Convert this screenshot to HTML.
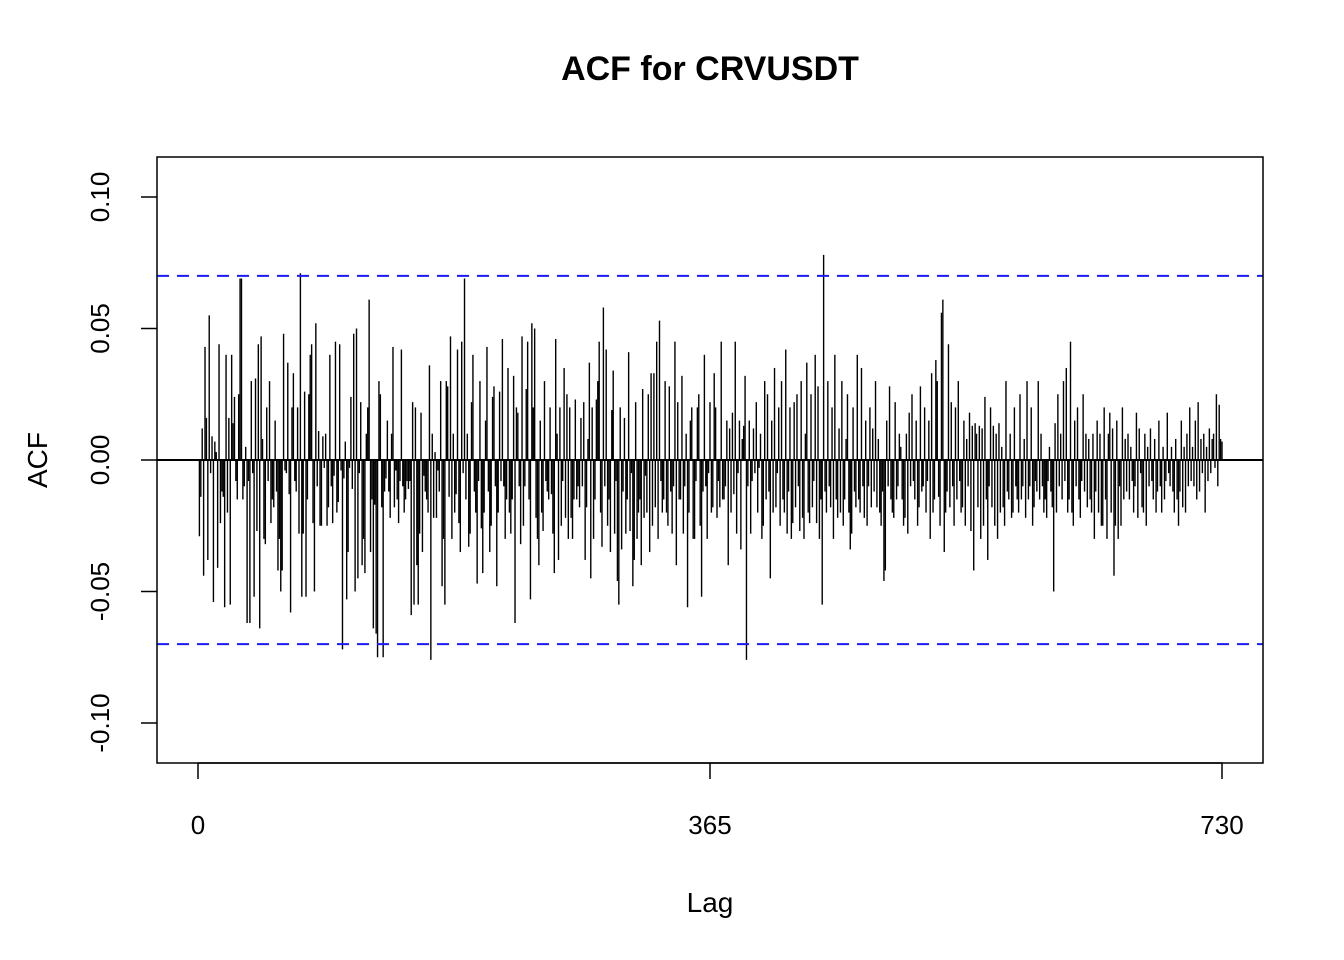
<!DOCTYPE html>
<html><head><meta charset="utf-8"><style>
html,body{margin:0;padding:0;background:#fff}
svg{display:block;font-family:"Liberation Sans",Arial,sans-serif}
</style></head><body>
<svg id="chart" width="1344" height="960" viewBox="0 0 1344 960">
<rect width="1344" height="960" fill="#fff"/>
<text x="710" y="80" text-anchor="middle" font-size="34" font-weight="bold">ACF for CRVUSDT</text>
<g id="bars"></g>
<g id="axes"></g>
<rect x="157" y="157" width="1106" height="606" fill="none" stroke="#000" stroke-width="1.5"/>
<text x="710" y="912" text-anchor="middle" font-size="28">Lag</text>
<text x="0" y="0" transform="translate(47,460) rotate(-90)" text-anchor="middle" font-size="28">ACF</text>
</svg>
<script>
const acfMilli = [
-29,-14,12,-44,43,16,-38,55,-5,9,
-54,7,3,-41,44,-24,-12,-14,-56,40,
-20,16,-55,40,14,24,-8,-15,25,69,
69,-15,-10,5,-62,-8,-62,30,-5,-52,
31,-27,44,-64,47,8,-30,-32,20,-8,
30,-24,-15,-18,15,-12,-42,-30,-50,-42,
48,-4,-5,37,-13,-58,20,33,-8,-12,
20,-28,71,-52,-28,26,-52,-15,25,40,
44,-24,-50,52,-10,11,-25,-25,9,-3,
10,-25,-18,40,-10,-24,-6,45,-20,-16,
44,-4,-72,-7,7,-53,-35,-3,24,-11,
48,-50,50,-45,-5,22,-40,-30,-43,10,
20,61,-35,-15,-64,-17,-66,-75,30,25,
-18,-75,-12,-7,15,-12,-22,10,43,-18,
-4,-15,-24,-8,42,-10,-20,-15,-8,-11,
-8,-59,22,-55,20,-40,-55,-28,18,-35,
-6,-12,-15,-20,36,-76,10,-22,3,-22,
-4,-12,30,-48,-30,-55,30,28,-14,47,
-30,10,-20,-13,42,-24,-35,45,-5,69,
-15,10,-33,-28,22,40,-12,-20,-47,-8,
30,-26,-43,-20,15,43,-12,-35,-25,24,
28,-10,-48,-20,26,-8,46,-10,-30,-15,
35,-20,-28,-15,32,-62,20,18,-10,-32,
47,-25,-10,27,45,-15,-53,52,20,50,
-22,-30,-40,15,-20,-27,30,-8,-12,-15,
20,-13,-28,-43,46,10,-38,20,-25,-8,
35,-22,25,-30,20,-22,-30,-15,23,-15,
-10,-18,16,-10,22,-38,-18,8,37,-45,
20,-30,-15,23,30,45,-20,-33,58,-10,
42,-25,-15,-35,19,34,-28,-8,-46,-55,
20,-34,-12,16,-28,-15,41,-27,-5,-48,
-38,22,-30,-20,-15,-40,27,-22,-6,-20,
25,-35,33,-25,33,-18,45,-30,53,-8,
-20,-15,30,-20,-25,28,-12,-28,-10,45,
-40,22,-15,-15,32,-28,-10,10,-56,-20,
15,20,-30,-30,-8,20,25,-25,-52,-12,
40,-10,-30,-5,22,-20,-18,33,20,-22,
-8,-18,45,-15,-15,-10,15,-40,12,-20,
18,-13,45,-28,-5,15,-34,8,13,32,
-76,-10,15,-28,-8,12,-5,22,-20,-3,
10,-30,-25,30,-15,25,-12,-45,15,-20,
35,-18,-5,20,-25,30,-15,-20,42,-28,
-12,20,-30,-24,22,-18,25,-10,-27,30,
-22,-30,10,37,-20,-24,25,-18,-8,40,
-24,28,-30,-15,-55,78,-12,-20,30,-10,
-18,20,-30,40,-15,-22,12,-20,30,-25,
-15,8,25,-20,-34,-28,20,-12,-18,40,
-15,-20,35,-10,-22,15,-25,-10,20,-18,
12,-12,30,-18,8,-20,-25,-12,-46,-42,
15,-10,28,-15,-20,-22,22,-15,-10,10,
5,-15,-25,-22,10,-28,18,-10,25,-8,
-15,15,-25,-18,28,-12,-10,20,-20,-8,
15,-30,33,-20,-15,38,30,-14,-25,56,
61,-35,-20,-12,44,-18,22,-10,-25,20,
-15,30,-8,-20,-18,15,-25,8,-10,18,
-27,13,-42,14,10,-18,13,-30,12,-25,
24,-15,-38,-10,20,-18,13,-25,10,-30,
14,-20,5,-18,-25,30,-12,-15,10,-22,
-20,20,-10,-15,-20,25,-15,-10,8,-22,
30,-15,-10,20,-25,-18,-8,-12,30,-15,
10,-10,-20,-15,-22,-8,5,-12,-18,-50,
14,-20,25,-10,10,-15,30,-8,35,-20,
-15,45,-20,-25,15,-10,20,-15,-22,-8,
25,-12,10,-18,8,-15,-20,10,-30,-12,
15,-20,10,-25,-25,20,-15,-30,10,18,
-20,12,-44,-25,15,-30,-10,-25,20,-15,
8,-12,10,-15,5,-8,-20,-10,18,-22,
12,-5,-18,-20,10,-25,5,-10,12,-8,
-15,8,-20,-12,15,-10,-20,5,-15,-8,
18,-5,-10,5,-12,-20,8,-15,-25,-12,
15,-18,5,-20,10,-10,20,-8,5,-10,
15,-15,22,-12,8,-5,10,-20,5,-8,
12,-5,8,10,-3,25,-10,21,8,7
];
const xTicks = [0, 365, 730];
const yTicks = [-0.10, -0.05, 0.00, 0.05, 0.10];
const yTickLabels = ["-0.10", "-0.05", "0.00", "0.05", "0.10"];
const ciBound = [0.07];

const NS = "http://www.w3.org/2000/svg";
function xs(l){ return 198 + (l/730)*(1222-198); }
function ys(v){ return 460 - v*2630; }
function mk(tag, attrs, parent){
  const e = document.createElementNS(NS, tag);
  for (const k in attrs) e.setAttribute(k, attrs[k]);
  parent.appendChild(e);
  return e;
}
const bars = document.getElementById('bars');
const axes = document.getElementById('axes');
acfMilli.forEach((m, i) => {
  const lag = i + 1;
  const x = xs(lag);
  const ln = mk('line', {x1:x, x2:x, y1:ys(0), y2:ys(m/1000), stroke:'#000', 'stroke-width':1.4}, bars);
  
  
});
const zl = mk('line', {x1:157, x2:1263, y1:ys(0), y2:ys(0), stroke:'#000', 'stroke-width':2}, bars);


[ciBound[0], -ciBound[0]].forEach(b => {
  const c = mk('line', {x1:157, x2:1263, y1:ys(b), y2:ys(b), stroke:'#1a1aff', 'stroke-width':2, 'stroke-dasharray':'12,8'}, bars);
  
  
});
xTicks.forEach(t => {
  const x = xs(t);
  const tk = mk('line', {x1:x, x2:x, y1:763, y2:779, stroke:'#000', 'stroke-width':1.5}, axes);
  
  
  const tx = mk('text', {x:x, y:834, 'text-anchor':'middle', 'font-size':26}, axes);
  tx.textContent = String(t);
  
  
});
mk('line', {x1:xs(0), x2:xs(730), y1:763, y2:763, stroke:'#000', 'stroke-width':1.5}, axes);
yTicks.forEach((t, i) => {
  const y = ys(t);
  const tk = mk('line', {x1:141, x2:157, y1:y, y2:y, stroke:'#000', 'stroke-width':1.5}, axes);
  
  
  const tx = mk('text', {x:0, y:0, transform:`translate(109,${y}) rotate(-90)`, 'text-anchor':'middle', 'font-size':26}, axes);
  tx.textContent = yTickLabels[i];
  
  
});
</script>
</body></html>
